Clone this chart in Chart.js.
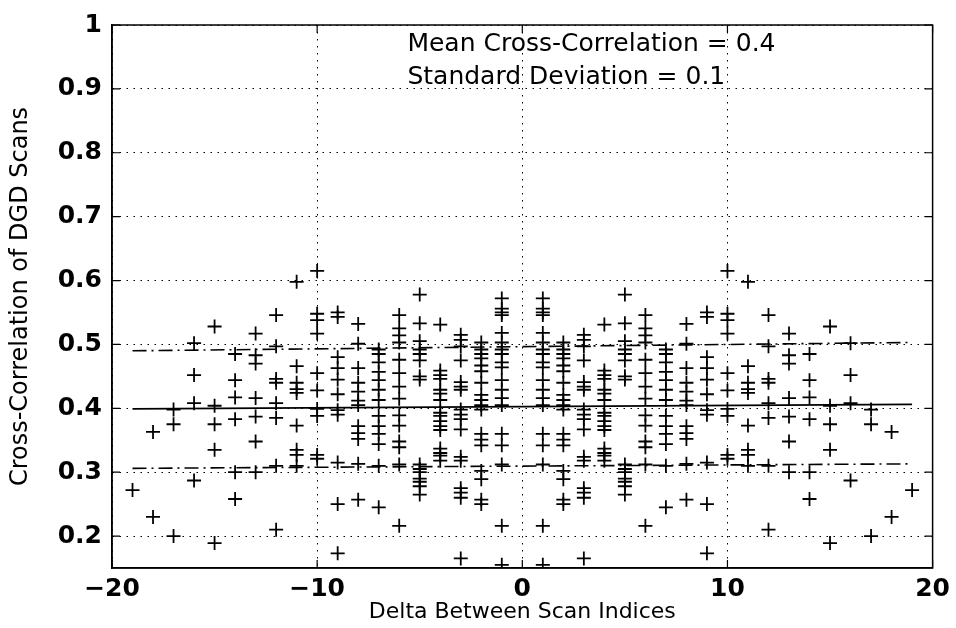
<!DOCTYPE html>
<html>
<head>
<meta charset="utf-8">
<script src="https://cdn.jsdelivr.net/npm/chart.js@4.4.1/dist/chart.umd.min.js"></script>
<style>
  html, body { margin: 0; padding: 0; background: #fff; }
  #wrap { width: 956px; height: 628px; position: relative; }
</style>
</head>
<body>
<div id="wrap"><canvas id="xcorr"></canvas></div>
<script>
// Cross-correlation of DGD scans against the lag between scan indices.
// Pairs at lag -k are the same pairs as at lag +k, so each list is drawn on both sides.
const lags = [1, 2, 3, 4, 5, 6, 7, 8, 9, 10, 11, 12, 13, 14, 15, 16, 17, 18, 19];

const lag1 = [0.572, 0.556, 0.550, 0.546, 0.518, 0.503, 0.492, 0.485, 0.472, 0.464, 0.444, 0.429, 0.416, 0.405, 0.360, 0.342, 0.312, 0.216, 0.155];
const lag2 = [0.503, 0.492, 0.485, 0.478, 0.467, 0.458, 0.440, 0.421, 0.413, 0.405, 0.398, 0.360, 0.351, 0.342, 0.302, 0.289, 0.257, 0.250];
const lag3 = [0.515, 0.507, 0.497, 0.475, 0.441, 0.434, 0.429, 0.398, 0.390, 0.383, 0.367, 0.324, 0.318, 0.275, 0.268, 0.260, 0.165];
const lag4 = [0.531, 0.459, 0.452, 0.446, 0.429, 0.423, 0.413, 0.393, 0.388, 0.380, 0.372, 0.366, 0.337, 0.330, 0.326, 0.318];
const lag5 = [0.578, 0.533, 0.505, 0.492, 0.485, 0.475, 0.450, 0.445, 0.312, 0.305, 0.300, 0.290, 0.285, 0.278, 0.265];
const lag6 = [0.546, 0.525, 0.514, 0.503, 0.476, 0.455, 0.434, 0.415, 0.389, 0.373, 0.348, 0.339, 0.312, 0.216];
const lag7 = [0.492, 0.485, 0.472, 0.457, 0.444, 0.429, 0.413, 0.388, 0.372, 0.360, 0.344, 0.310, 0.245];
const lag8 = [0.532, 0.501, 0.463, 0.440, 0.426, 0.412, 0.405, 0.372, 0.361, 0.352, 0.313, 0.257];
const lag9 = [0.550, 0.543, 0.480, 0.463, 0.445, 0.422, 0.397, 0.390, 0.315, 0.250, 0.173];
const lag10 = [0.615, 0.548, 0.538, 0.517, 0.455, 0.428, 0.399, 0.388, 0.327, 0.321];
const lag11 = [0.598, 0.466, 0.440, 0.430, 0.424, 0.373, 0.335, 0.327, 0.310];
const lag12 = [0.546, 0.497, 0.446, 0.440, 0.408, 0.385, 0.310, 0.210];
const lag13 = [0.517, 0.483, 0.470, 0.416, 0.387, 0.348, 0.300];
const lag14 = [0.485, 0.444, 0.417, 0.383, 0.300, 0.258];
const lag15 = [0.528, 0.404, 0.375, 0.335, 0.189];
const lag16 = [0.502, 0.452, 0.408, 0.287];
const lag17 = [0.398, 0.375, 0.200];
const lag18 = [0.363, 0.230];
const lag19 = [0.272];

const lagValues = [lag1, lag2, lag3, lag4, lag5, lag6, lag7, lag8, lag9, lag10,
                   lag11, lag12, lag13, lag14, lag15, lag16, lag17, lag18, lag19];

// fitted mean and mean +/- one standard deviation, end points at lag -19 and 19
const fitLags = [-19, 19];
const meanFit = [0.399, 0.406];
const upperFit = [0.490, 0.503];
const lowerFit = [0.306, 0.313];

const xTicks = [-20, -10, 0, 10, 20];
const yTicks = [0.2, 0.3, 0.4, 0.5, 0.6, 0.7, 0.8, 0.9, 1];

const notes = ['Mean Cross-Correlation = 0.4', 'Standard Deviation = 0.1'];
const noteAt = { x: -5.6, y: [0.969, 0.918] };

const FONT = "'DejaVu Sans', 'Liberation Sans', sans-serif";
Chart.defaults.font.family = FONT;
Chart.defaults.color = '#000';

const points = [];
lags.forEach((k, i) => {
    lagValues[i].forEach(v => {
        points.push({ x: -k, y: v });
        points.push({ x: k, y: v });
    });
});

const fitLine = (vals) => fitLags.map((x, i) => ({ x, y: vals[i] }));

// box round the plot with small inward ticks, like the original figure
const frame = {
    id: 'frame',
    afterDraw(chart) {
        const { ctx, chartArea: a, scales } = chart;
        ctx.save();
        ctx.strokeStyle = '#000';
        ctx.lineWidth = 1.5;
        ctx.strokeRect(a.left, a.top, a.right - a.left, a.bottom - a.top);
        ctx.lineWidth = 1.2;
        const t = 8;
        ctx.beginPath();
        xTicks.forEach(v => {
            const px = scales.x.getPixelForValue(v);
            ctx.moveTo(px, a.bottom); ctx.lineTo(px, a.bottom - t);
            ctx.moveTo(px, a.top); ctx.lineTo(px, a.top + t);
        });
        yTicks.forEach(v => {
            const py = scales.y.getPixelForValue(v);
            ctx.moveTo(a.left, py); ctx.lineTo(a.left + t, py);
            ctx.moveTo(a.right, py); ctx.lineTo(a.right - t, py);
        });
        ctx.stroke();
        ctx.restore();
    }
};

const noteText = {
    id: 'noteText',
    afterDatasetsDraw(chart) {
        const { ctx, scales } = chart;
        ctx.save();
        ctx.font = '25px ' + FONT;
        ctx.fillStyle = '#000';
        ctx.textAlign = 'left';
        ctx.textBaseline = 'middle';
        notes.forEach((txt, i) => {
            ctx.fillText(txt, scales.x.getPixelForValue(noteAt.x), scales.y.getPixelForValue(noteAt.y[i]));
        });
        ctx.restore();
    }
};

new Chart(document.getElementById('xcorr'), {
    type: 'scatter',
    data: {
        datasets: [
            {
                label: 'Scan pairs',
                data: points,
                pointStyle: 'cross',
                pointRadius: 7,
                pointBorderWidth: 1.8,
                borderColor: '#000',
                backgroundColor: '#000'
            },
            {
                label: 'Mean',
                data: fitLine(meanFit),
                showLine: true,
                borderColor: '#000',
                borderWidth: 1.8,
                pointRadius: 0
            },
            {
                label: 'Mean + SD',
                data: fitLine(upperFit),
                showLine: true,
                borderColor: '#000',
                borderWidth: 1.6,
                borderDash: [14, 5, 2, 5],
                pointRadius: 0
            },
            {
                label: 'Mean - SD',
                data: fitLine(lowerFit),
                showLine: true,
                borderColor: '#000',
                borderWidth: 1.6,
                borderDash: [14, 5, 2, 5],
                pointRadius: 0
            }
        ]
    },
    options: {
        responsive: true,
        maintainAspectRatio: false,
        animation: false,
        layout: { padding: { top: 14, right: 23, left: 0, bottom: 0 } },
        plugins: {
            legend: { display: false },
            tooltip: { enabled: false }
        },
        scales: {
            x: {
                type: 'linear',
                min: -20,
                max: 20,
                afterBuildTicks: (scale) => { scale.ticks = xTicks.map(v => ({ value: v })); },
                afterFit: (scale) => { scale.height = 60; },
                ticks: {
                    autoSkip: false,
                    maxRotation: 0,
                    padding: 6,
                    font: { size: 25, weight: 'bold' },
                    callback: (v) => (v < 0 ? '\u2212' + Math.abs(v) : String(v))
                },
                grid: { color: '#000', lineWidth: 1, drawTicks: false },
                border: { display: true, color: '#000', width: 1.5, dash: [1.5, 5.5] },
                title: {
                    display: true,
                    text: 'Delta Between Scan Indices',
                    font: { size: 22 },
                    padding: { top: 0, bottom: 3 }
                }
            },
            y: {
                type: 'linear',
                min: 0.15,
                max: 1,
                afterBuildTicks: (scale) => { scale.ticks = yTicks.map(v => ({ value: v })); },
                afterFit: (scale) => { scale.width = 112; },
                ticks: {
                    padding: 10,
                    font: { size: 25, weight: 'bold' },
                    callback: (v) => (v === 1 ? '1' : v.toFixed(1))
                },
                grid: { color: '#000', lineWidth: 1, drawTicks: false },
                border: { display: true, color: '#000', width: 1.5, dash: [1.5, 5.5] },
                title: {
                    display: true,
                    text: 'Cross-Correlation of DGD Scans',
                    font: { size: 24 },
                    padding: { top: 6, bottom: 0 }
                }
            }
        }
    },
    plugins: [frame, noteText]
});
</script>
</body>
</html>
